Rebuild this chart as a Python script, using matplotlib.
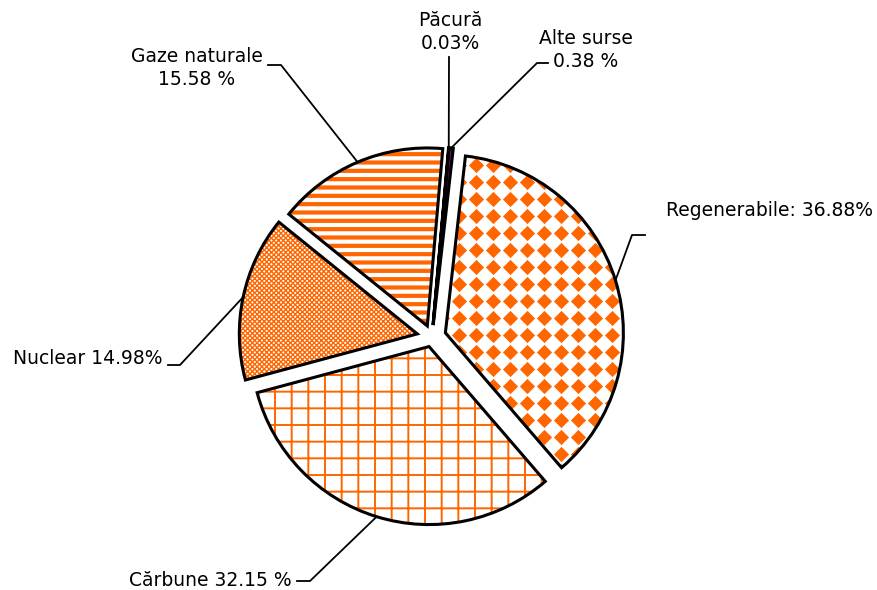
import numpy as np
import matplotlib.pyplot as plt
import matplotlib.patches as mpatches

# data (clockwise from the top)
labels = ["Păcură\n0.03%", "Alte surse\n0.38 %", "Regenerabile: 36.88%",
          "Cărbune 32.15 %", "Nuclear 14.98%", "Gaze naturale\n15.58 %"]
shares = [0.03, 0.38, 36.88, 32.15, 14.98, 15.58]

W, H = 878, 590
ORANGE = "#FF6600"

# styling per slice
explode = [12, 12, 14, 10, 15, 12]          # in pixels
faces = ["#1a1a40", "#7a0a7a", "white", "white", "white", "white"]
hatches = [None, None, None, "+", "xxxxxxx", "--"]
hatch_lw = [1, 1, 1, 1.4, 1.0, 3.0]

# label layout: text centre, elbow points (pixel coords, y from top)
text_pos = [(450, 32), (586, 50), (770, 210), (210, 580), (88, 358), (197, 68)]
elbows = [[(449, 57)],
          [(548, 63), (537, 63)],
          [(645, 235), (632, 235)],
          [(297, 581), (310, 581)],
          [(168, 365), (180, 365)],
          [(268, 65), (281, 65)]]

fig = plt.figure(figsize=(W / 100, H / 100), dpi=100)
ax = fig.add_axes([0, 0, 1, 1])

wedges, _ = ax.pie(shares, explode=explode, startangle=85, counterclock=False,
                   center=(432, H - 337), radius=178, colors=faces,
                   wedgeprops=dict(linewidth=0))

for w, h, hl in zip(wedges, hatches, hatch_lw):
    if h:
        w.set_edgecolor(ORANGE)
        w.set_hatch(h)
        if hasattr(w, "set_hatch_linewidth"):
            w.set_hatch_linewidth(hl)

# diamond pattern for the renewables slice
gx, gy = np.meshgrid(np.arange(0, W, 17), np.arange(0, H, 17))
dots = ax.scatter(gx.ravel(), gy.ravel(), marker="D", s=60, color=ORANGE,
                  linewidths=0, zorder=2)
dots.set_clip_path(wedges[2])

# black outlines
for w in wedges:
    ax.add_patch(mpatches.Wedge(w.center, w.r, w.theta1, w.theta2, fill=False,
                                edgecolor="black", linewidth=2.2, zorder=3))

# labels and leader lines
for w, lab, (tx, ty), knee in zip(wedges, labels, text_pos, elbows):
    tm = np.deg2rad((w.theta1 + w.theta2) / 2)
    px = w.center[0] + w.r * np.cos(tm)
    py = w.center[1] + w.r * np.sin(tm)
    xs = [k[0] for k in knee] + [px]
    ys = [H - k[1] for k in knee] + [py]
    ax.plot(xs, ys, color="black", linewidth=1.3, zorder=4)
    ax.text(tx, H - ty, lab, ha="center", va="center", multialignment="center",
            fontsize=13.5, family="DejaVu Sans", linespacing=1.3)

ax.set_xlim(0, W)
ax.set_ylim(0, H)
ax.set_aspect("auto")
ax.axis("off")

fig.savefig("out.png", dpi=100)
